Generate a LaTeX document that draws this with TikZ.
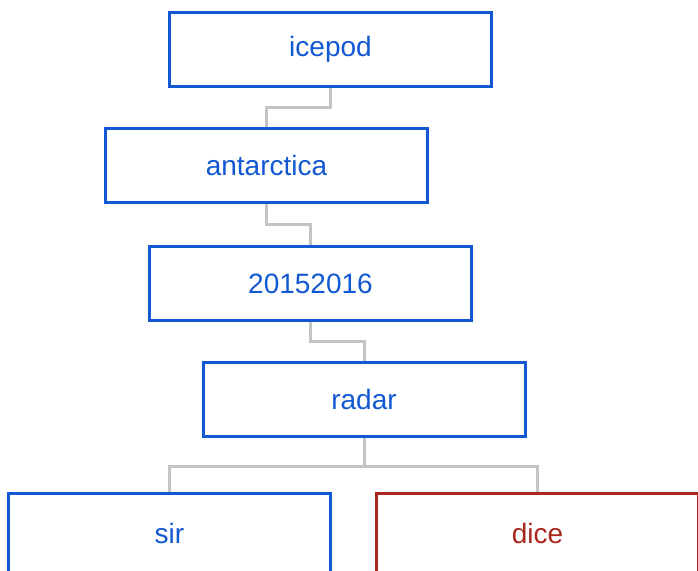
\documentclass[tikz,border=0pt]{standalone}
\usepackage{fontspec}
\setmainfont{Liberation Sans}
\usetikzlibrary{backgrounds}
\definecolor{boxblue}{HTML}{1258D2}
\definecolor{boxred}{HTML}{A8281E}
\definecolor{linkgray}{HTML}{C4C4C4}
\tikzset{
  blk/.style={draw=boxblue, text=boxblue, fill=white, line width=3pt,
    minimum width=322pt, minimum height=74pt, inner sep=0pt,
    font=\fontsize{28}{32}\selectfont},
  redblk/.style={draw=boxred, text=boxred},
  tallblk/.style={minimum height=80pt},
  link/.style={draw=linkgray, line width=3pt}
}
\begin{document}
\begin{tikzpicture}[x=1pt,y=-1pt]
  \useasboundingbox (0,0) rectangle (698,570);
  \clip (0,0) rectangle (698,570);
  \node[blk] (icepod) at (330.5,49) {icepod};
  \node[blk] (antarctica) at (266.5,165.5) {antarctica};
  \node[blk] (season) at (310.5,283.5) {20152016};
  \node[blk] (radar) at (364,399.5) {radar};
  \node[blk, tallblk] (sir) at (169.5,533.5) {sir};
  \node[blk, tallblk, redblk] (dice) at (537.5,533.5) {dice};
  \begin{scope}[on background layer]
    \draw[link] (icepod.south) -- ++(0,20) -| (antarctica.north);
    \draw[link] (antarctica.south) -- ++(0,20) -| (season.north);
    \draw[link] (season.south) -- ++(0,19) -| (radar.north);
    \draw[link] (radar.south) -- ++(0,28) -| (sir.north);
    \draw[link] (radar.south) -- ++(0,28) -| (dice.north);
  \end{scope}
\end{tikzpicture}
\end{document}
